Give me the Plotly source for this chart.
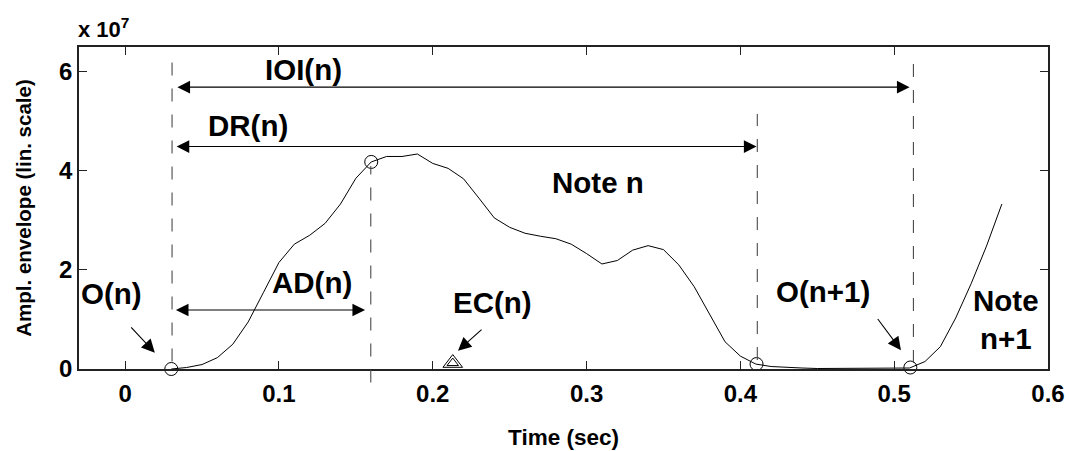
import plotly.graph_objects as go

# ---------------- data (amplitude in units of 1e7) ----------------
time_s = [0.03, 0.04, 0.05, 0.06, 0.07, 0.08, 0.09, 0.10, 0.11, 0.12,
          0.13, 0.14, 0.15, 0.16, 0.17, 0.18, 0.19, 0.20, 0.21, 0.22,
          0.23, 0.24, 0.25, 0.26, 0.27, 0.28, 0.29, 0.30, 0.31, 0.32,
          0.33, 0.34, 0.35, 0.36, 0.37, 0.38, 0.39, 0.40, 0.41, 0.42,
          0.43, 0.44, 0.45, 0.46, 0.47, 0.48, 0.49, 0.50, 0.51, 0.52,
          0.53, 0.54, 0.55, 0.56, 0.57]
envelope = [0.00, 0.03, 0.09, 0.23, 0.50, 0.95, 1.55, 2.15, 2.52, 2.70,
            2.94, 3.33, 3.85, 4.18, 4.29, 4.29, 4.34, 4.15, 4.05, 3.84,
            3.45, 3.05, 2.86, 2.74, 2.68, 2.63, 2.52, 2.33, 2.12, 2.19,
            2.40, 2.49, 2.41, 2.10, 1.66, 1.10, 0.55, 0.26, 0.10, 0.05,
            0.03, 0.02, 0.01, 0.01, 0.01, 0.01, 0.01, 0.01, 0.02, 0.15,
            0.45, 1.03, 1.72, 2.48, 3.33]

# circled events: onset n, attack end, offset, onset n+1
event_t = [0.030, 0.160, 0.4105, 0.5105]
event_a = [0.00, 4.18, 0.10, 0.03]
# energy centroid
ec_t = [0.213]
ec_a = [0.12]

# dashed guide lines (time, bottom, top)
guide_t = [0.0305, 0.1597, 0.4110, 0.5125]
guide_lo = [0.15, -0.27, 0.18, 0.12]
guide_hi = [6.45, 4.10, 5.15, 6.30]

# double arrows: (label, y, left tip, right tip)
span_names = ["IOI(n)", "DR(n)", "AD(n)"]
span_y = [5.69, 4.49, 1.19]
span_t0 = [0.0330, 0.0325, 0.0320]
span_t1 = [0.5100, 0.4105, 0.1560]
span_label_t = [0.1157, 0.0796, 0.1212]
span_label_a = [6.04, 4.91, 1.74]

# pointer labels: text, label pos, arrow tail, arrow tip
ptr_names = ["O(n)", "EC(n)", "O(n+1)"]
ptr_label_t = [-0.0087, 0.2390, 0.4540]
ptr_label_a = [1.52, 1.34, 1.56]
ptr_tail_t = [0.0030, 0.2327, 0.4886]
ptr_tail_a = [0.87, 0.82, 1.04]
ptr_tip_t = [0.0193, 0.2164, 0.5044]
ptr_tip_a = [0.33, 0.37, 0.38]

note_names = ["Note n", "Note<br>n+1"]
note_t = [0.3076, 0.5727]
note_a = [3.76, 0.99]

x_ticks = [0, 0.1, 0.2, 0.3, 0.4, 0.5, 0.6]
x_ticktext = ["0", "0.1", "0.2", "0.3", "0.4", "0.5", "0.6"]
y_ticks = [0, 2, 4, 6]
y_ticktext = ["0", "2", "4", "6"]

X_RANGE = [-0.03, 0.6]
Y_RANGE = [0, 6.5]

FONT = "Liberation Sans, Arial, Helvetica, sans-serif"
LABEL_SIZE = 29.5

fig = go.Figure()

fig.add_trace(go.Scatter(x=time_s, y=envelope, mode="lines",
                         line=dict(color="black", width=1), showlegend=False,
                         hoverinfo="skip"))
fig.add_trace(go.Scatter(x=event_t, y=event_a, mode="markers",
                         marker=dict(symbol="circle-open", size=13,
                                     color="black", line=dict(width=1)),
                         cliponaxis=False, showlegend=False))
fig.add_trace(go.Scatter(x=ec_t, y=ec_a, mode="markers",
                         marker=dict(symbol="triangle-up-open", size=17,
                                     color="black", line=dict(width=1)),
                         cliponaxis=False, showlegend=False))
fig.add_trace(go.Scatter(x=ec_t, y=ec_a, mode="markers",
                         marker=dict(symbol="triangle-up-open", size=10,
                                     color="black", line=dict(width=1)),
                         cliponaxis=False, showlegend=False))

# dashed guides (paper y so they may extend below the axis)
yspan = Y_RANGE[1] - Y_RANGE[0]
for t, lo, hi in zip(guide_t, guide_lo, guide_hi):
    fig.add_shape(type="line", xref="x", yref="paper",
                  x0=t, x1=t,
                  y0=(lo - Y_RANGE[0]) / yspan, y1=(hi - Y_RANGE[0]) / yspan,
                  line=dict(color="#4a4a4a", width=1.1, dash="13px,13px"))

annotations = []
for name, y, t0, t1, lt, la in zip(span_names, span_y, span_t0, span_t1,
                                   span_label_t, span_label_a):
    annotations.append(dict(x=t1, y=y, ax=t0, ay=y, xref="x", yref="y",
                            axref="x", ayref="y", text="", showarrow=True,
                            arrowhead=2, startarrowhead=2, arrowside="end+start",
                            arrowsize=2.3, startarrowsize=2.3, arrowwidth=1.1,
                            arrowcolor="black", standoff=0, startstandoff=0))
    annotations.append(dict(x=lt, y=la, xref="x", yref="y", text=name,
                            showarrow=False, xanchor="center", yanchor="middle",
                            font=dict(family=FONT, size=LABEL_SIZE, color="black",
                                      weight="bold")))

for name, lt, la, t0, a0, t1, a1 in zip(ptr_names, ptr_label_t, ptr_label_a,
                                         ptr_tail_t, ptr_tail_a,
                                         ptr_tip_t, ptr_tip_a):
    annotations.append(dict(x=t1, y=a1, ax=t0, ay=a0, xref="x", yref="y",
                            axref="x", ayref="y", text="", showarrow=True,
                            arrowhead=2, arrowsize=2.4, arrowwidth=1.1,
                            arrowcolor="black", standoff=0))
    annotations.append(dict(x=lt, y=la, xref="x", yref="y", text=name,
                            showarrow=False, xanchor="center", yanchor="middle",
                            font=dict(family=FONT, size=LABEL_SIZE, color="black",
                                      weight="bold")))

for name, lt, la in zip(note_names, note_t, note_a):
    annotations.append(dict(x=lt, y=la, xref="x", yref="y", text=name,
                            showarrow=False, xanchor="center", yanchor="middle",
                            font=dict(family=FONT, size=LABEL_SIZE, color="black",
                                      weight="bold")))

annotations.append(dict(x=0, y=1, xref="paper", yref="paper",
                        text="x 10<sup>7</sup>", showarrow=False,
                        xanchor="left", yanchor="bottom", yshift=3, xshift=-3,
                        font=dict(family=FONT, size=22, color="black",
                                  weight="bold")))

axis_common = dict(showline=True, linecolor="#222222", linewidth=1.5,
                   mirror="ticks", ticks="inside", ticklen=8, tickwidth=1,
                   tickcolor="#222222", showgrid=False, zeroline=False,
                   automargin=False,
                   tickfont=dict(family=FONT, size=24, color="black",
                                 weight="bold"))

fig.update_layout(
    width=1069, height=451,
    margin=dict(l=79, r=21, t=47, b=82),
    paper_bgcolor="white", plot_bgcolor="white",
    showlegend=False,
    annotations=annotations,
    xaxis=dict(range=X_RANGE, tickvals=x_ticks, ticktext=x_ticktext,
               ticklabelstandoff=2,
               title=dict(text="Time (sec)", standoff=24,
                          font=dict(family=FONT, size=22.5, color="black",
                                    weight="bold")),
               **axis_common),
    yaxis=dict(range=Y_RANGE, tickvals=y_ticks, ticktext=y_ticktext,
               title=dict(text="Ampl. envelope (lin. scale)", standoff=22,
                          font=dict(family=FONT, size=20.5, color="black",
                                    weight="bold")),
               **axis_common),
)

fig.write_html("out.html",
               config={"displayModeBar": False},
               post_script="document.body.style.margin='0';"
                           "document.body.style.overflow='hidden';")
